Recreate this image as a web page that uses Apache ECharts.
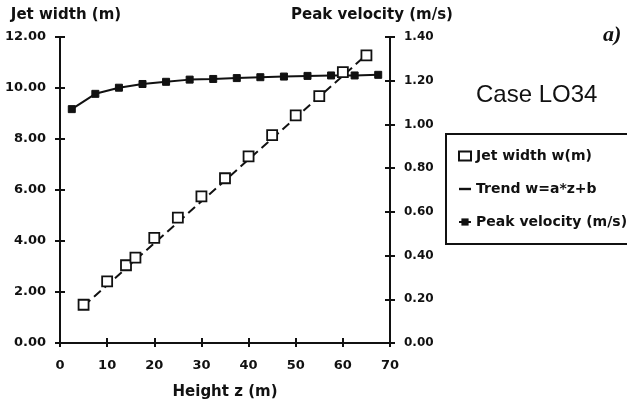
<!DOCTYPE html>
<html>
<head>
<meta charset="utf-8">
<script src="https://cdn.jsdelivr.net/npm/echarts@6/dist/echarts.min.js"></script>
<style>
  html, body { margin: 0; padding: 0; background: #fff; }
  #main { width: 627px; height: 408px; }
</style>
</head>
<body>
<div id="main"></div>
<script>
// jet width points (open squares)
const heights = [5, 10, 14, 16, 20, 25, 30, 35, 40, 45, 50, 55, 60, 65];
const jetWidth = [1.5, 2.42, 3.05, 3.35, 4.12, 4.92, 5.75, 6.46, 7.32, 8.15, 8.93, 9.68, 10.62, 11.28];

// linear trend, end points
const trendZ = [5, 65];
const trendW = [1.45, 11.3];

// peak velocity (filled squares)
const velHeights = [2.5, 7.5, 12.5, 17.5, 22.5, 27.5, 32.5, 37.5, 42.5, 47.5, 52.5, 57.5, 62.5, 67.5];
const peakVel = [1.07, 1.14, 1.168, 1.185, 1.195, 1.205, 1.208, 1.212, 1.216, 1.219, 1.222, 1.224, 1.224, 1.227];

const FONT = 'DejaVu Sans';
const black = '#111';

const chart = echarts.init(document.getElementById('main'));

const zip = (a, b) => a.map((v, i) => [v, b[i]]);

const labelStyle = { color: black, fontFamily: FONT, fontWeight: 'bold' };
const tickLine = { color: black, width: 2 };

// helper: a bare copy of an axis that only draws the inner half of the ticks
function innerTicks(base) {
  return Object.assign({}, base, {
    name: '',
    axisLine: { show: false, onZero: false },
    axisTick: { show: true, inside: true, length: 5, lineStyle: tickLine },
    axisLabel: { show: false },
    splitLine: { show: false }
  });
}

const xBase = { type: 'value', min: 0, max: 70, interval: 10, position: 'bottom' };
const wBase = { type: 'value', min: 0, max: 12, interval: 2, position: 'left' };
const vBase = { type: 'value', min: 0, max: 1.4, interval: 0.2, position: 'right' };

const option = {
  animation: false,
  backgroundColor: '#fff',
  grid: { left: 60, right: 237, top: 37, bottom: 65, containLabel: false, outerBoundsMode: 'none' },
  xAxis: [
    Object.assign({}, xBase, {
      name: 'Height z (m)', nameLocation: 'middle', nameGap: 42,
      nameTextStyle: Object.assign({ fontSize: 15 }, labelStyle),
      axisLine: { onZero: false, lineStyle: tickLine },
      axisTick: { inside: false, length: 4, lineStyle: tickLine },
      axisLabel: Object.assign({ fontSize: 13, margin: 16 }, labelStyle),
      splitLine: { show: false }
    }),
    innerTicks(xBase)
  ],
  yAxis: [
    Object.assign({}, wBase, {
      name: 'Jet width (m)', nameLocation: 'end', nameGap: 14,
      nameTextStyle: Object.assign({ fontSize: 15, padding: [0, 0, 0, 12] }, labelStyle),
      axisLine: { show: true, onZero: false, lineStyle: tickLine },
      axisTick: { show: true, inside: false, length: 5, lineStyle: tickLine },
      axisLabel: Object.assign({ fontSize: 13, margin: 14, formatter: v => v.toFixed(2) }, labelStyle),
      splitLine: { show: false }
    }),
    Object.assign({}, vBase, {
      name: 'Peak velocity (m/s)', nameLocation: 'end', nameGap: 14,
      nameTextStyle: Object.assign({ fontSize: 15, padding: [0, 36, 0, 0] }, labelStyle),
      axisLine: { show: true, onZero: false, lineStyle: tickLine },
      axisTick: { show: true, inside: false, length: 5, lineStyle: tickLine },
      axisLabel: Object.assign({ fontSize: 12, margin: 14, formatter: v => v.toFixed(2) }, labelStyle),
      splitLine: { show: false }
    }),
    innerTicks(wBase),
    innerTicks(vBase)
  ],
  legend: {
    orient: 'vertical', left: 446, top: 134,
    padding: [15, 40, 15, 12],
    itemGap: 19, itemWidth: 12, itemHeight: 9,
    borderColor: black, borderWidth: 2,
    textStyle: Object.assign({ fontSize: 14 }, labelStyle),
    data: [
      'Jet width w(m)',
      { name: 'Trend w=a*z+b', icon: 'path://M0,0L10,0L10,2L0,2Z' },
      'Peak velocity (m/s)'
    ]
  },
  series: [
    {
      name: 'Trend w=a*z+b', type: 'line', xAxisIndex: 0, yAxisIndex: 0,
      data: zip(trendZ, trendW), symbol: 'none', z: 2,
      lineStyle: { color: black, width: 2, type: [9, 5] },
      itemStyle: { color: black }
    },
    {
      name: 'Jet width w(m)', type: 'scatter', xAxisIndex: 0, yAxisIndex: 0,
      data: zip(heights, jetWidth), symbol: 'rect', symbolSize: 10, z: 4,
      itemStyle: { color: '#fff', borderColor: black, borderWidth: 1.8, opacity: 1 }
    },
    {
      name: 'Peak velocity (m/s)', type: 'line', xAxisIndex: 0, yAxisIndex: 1,
      data: zip(velHeights, peakVel), symbol: 'rect', symbolSize: 7, z: 3,
      lineStyle: { color: black, width: 2 },
      itemStyle: { color: black, borderColor: black }
    }
  ],
  graphic: [
    {
      type: 'text', left: 476, top: 83,
      style: { text: 'Case LO34', fontSize: 24, fontFamily: 'Liberation Sans', fill: black }
    },
    {
      type: 'text', left: 603, top: 24,
      style: { text: 'a)', fontSize: 22, fontFamily: 'Liberation Serif', fontStyle: 'italic', fontWeight: 'bold', fill: black }
    }
  ]
};

chart.setOption(option);
</script>
</body>
</html>
